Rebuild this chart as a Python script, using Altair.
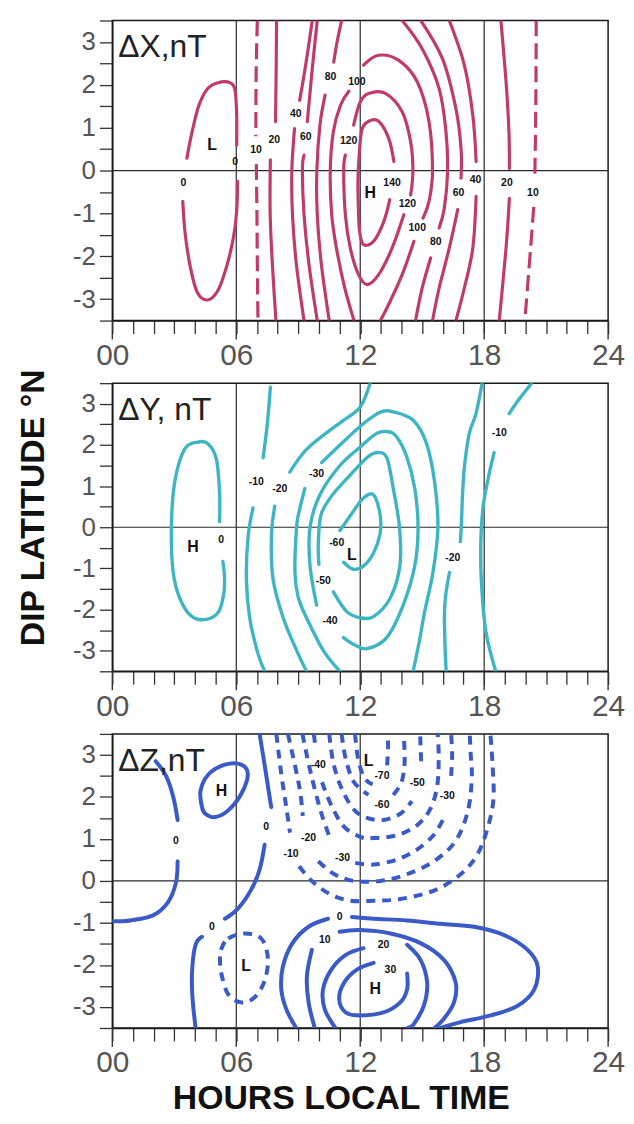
import altair as alt
import pandas as pd

# ---------------- axes / grid values ----------------
X_TICKS = list(range(25))
Y_TICKS = [-3.5, -3, -2.5, -2, -1.5, -1, -0.5, 0, 0.5, 1, 1.5, 2, 2.5, 3, 3.5]
GRID_X = [6, 12, 18]
GRID_Y = [0]
MAJOR_X = [0, 6, 12, 18, 24]

DX_COLOR = "#c13a6c"
DY_COLOR = "#3db5c3"
DZ_COLOR = "#3a5bc7"

# ---------------- Delta X contours (hour, dip latitude) ----------------
DX_LINES = [
    ("solid", [(3.41, -0.72), (3.53, -1.49), (3.78, -2.26), (4.11, -2.84), (4.61, -3.02), (5.11, -2.80), (5.52, -2.26), (5.86, -1.57), (6.02, -0.95), (6.06, -0.25)]),
    ("solid", [(6.02, 0.59), (6.02, 1.29), (5.94, 1.87), (5.69, 2.05), (5.11, 2.05), (4.61, 1.91), (4.19, 1.52), (3.86, 0.90), (3.61, 0.29)]),
    ("dash", [(7.02, 3.5), (6.96, 2.2), (6.95, 0.8)]),
    ("dash", [(6.97, 0.15), (7.0, -1.0), (7.02, -2.2), (7.05, -3.5)]),
    ("dash", [(20.52, 3.5), (20.5, 1.5), (20.45, -0.2)]),
    ("dash", [(20.4, -0.85), (20.25, -1.8), (19.97, -3.5)]),
    ("solid", [(7.95, 3.5), (7.93, 2.3), (7.9, 1.14)]),
    ("solid", [(7.65, 0.25), (7.64, -1.0), (7.75, -2.2), (7.92, -3.5)]),
    ("solid", [(18.81, 3.5), (19.06, 2.07), (19.2, 0.9), (19.22, 0.05)]),
    ("solid", [(19.22, -0.65), (19.06, -1.8), (18.73, -3.5)]),
    ("solid", [(9.68, 3.5), (9.36, 2.46), (9.07, 1.64)]),
    ("solid", [(8.82, 0.98), (8.69, 0.0), (8.72, -1.03), (8.91, -2.19), (9.28, -3.5)]),
    ("solid", [(16.31, 3.5), (17.04, 2.46), (17.45, 1.29), (17.61, 0.21)]),
    ("solid", [(17.61, -0.6), (17.45, -1.81), (17.04, -2.74), (16.63, -3.5)]),
    ("solid", [(9.92, 3.5), (9.68, 2.38), (9.44, 1.14)]),
    ("solid", [(9.28, 0.36), (9.2, 0.0), (9.28, -1.03), (9.52, -2.19), (9.92, -3.5)]),
    ("solid", [(14.93, 3.5), (15.98, 2.61), (16.63, 1.45), (16.88, 0.52), (16.88, -0.18)]),
    ("solid", [(16.72, -0.91), (16.31, -1.81), (15.82, -2.74), (15.5, -3.5)]),
    ("solid", [(11.1, 3.5), (10.88, 3.0), (10.72, 2.53)]),
    ("solid", [(10.3, 1.76), (10.05, 1.06), (9.9, 0.0), (9.92, -1.03), (10.12, -2.19), (10.5, -3.5)]),
    ("solid", [(14.03, 3.5), (15.0, 2.84), (15.82, 1.91), (16.15, 0.91), (16.23, -0.02), (16.07, -0.88), (15.82, -1.34)]),
    ("solid", [(15.41, -2.04), (15.0, -2.74), (14.68, -3.5)]),
    ("solid", [(11.7, -3.5), (11.25, -2.74), (10.85, -1.81), (10.62, -1.03), (10.55, 0.0), (10.7, 0.91), (11.05, 1.53), (11.45, 1.85)]),
    ("solid", [(12.16, 2.46), (12.89, 2.69), (13.87, 2.57), (14.76, 2.07), (15.33, 1.14), (15.5, -0.02), (15.33, -0.72), (15.04, -1.11)]),
    ("solid", [(14.6, -1.65), (14.03, -2.43), (13.38, -3.12), (12.98, -3.5)]),
    ("solid", [(11.28, 0.36), (11.2, 0.0), (11.28, -1.03), (11.52, -1.81), (11.92, -2.43), (12.33, -2.66), (12.89, -2.43), (13.54, -1.81), (14.11, -1.03)]),
    ("solid", [(14.44, -0.57), (14.55, -0.02), (14.44, 0.67), (14.03, 1.37), (13.22, 1.8), (12.41, 1.8), (12.0, 1.6), (11.68, 1.06)]),
    ("solid", [(13.43, -0.68), (13.14, -1.19), (12.65, -1.65), (12.16, -1.73), (11.98, -1.45), (11.92, -1.03), (11.89, -0.26), (11.95, 0.36), (12.08, 0.95), (12.41, 1.15), (12.89, 1.15), (13.38, 0.75), (13.63, 0.21)]),
]
DX_LABELS = [
    ("0", 3.44, -0.29), ("0", 5.94, 0.21), ("10", 6.96, 0.48), ("10", 20.36, -0.53),
    ("20", 7.84, 0.71), ("20", 19.1, -0.29), ("40", 8.88, 1.33), ("40", 17.58, -0.23),
    ("60", 9.36, 0.79), ("60", 16.76, -0.53), ("80", 10.56, 2.19), ("80", 15.66, -1.67),
    ("100", 11.84, 2.07), ("100", 14.76, -1.34), ("120", 11.44, 0.69), ("120", 14.28, -0.78),
    ("140", 13.54, -0.29),
]
DX_EXTREMA = [("L", 4.83, 0.6), ("H", 12.49, -0.53)]

# ---------------- Delta Y contours ----------------
DY_LINES = [
    ("solid", [(5.19, 0.14), (5.19, 0.86), (5.03, 1.67), (4.63, 2.03), (4.15, 2.07), (3.5, 1.9), (3.02, 1.1), (2.86, 0.0), (2.94, -1.07), (3.26, -1.72), (3.83, -2.16), (4.55, -2.24), (5.15, -2.05), (5.4, -1.6), (5.43, -1.2), (5.35, -0.83)]),
    ("solid", [(7.65, 3.4), (7.5, 2.5), (7.3, 1.69)]),
    ("solid", [(6.81, 0.47), (6.57, -0.24), (6.49, -1.26), (6.65, -2.2), (7.05, -3.07), (7.38, -3.5)]),
    ("solid", [(12.48, 3.5), (12.0, 2.92), (11.2, 2.6), (10.54, 2.36), (9.4, 1.89), (8.59, 1.34)]),
    ("solid", [(7.86, 0.51), (7.7, -0.24), (7.78, -1.26), (8.27, -2.2), (8.92, -2.99), (9.4, -3.5)]),
    ("solid", [(17.9, 3.5), (17.6, 2.75), (17.28, 2.28), (17.05, 1.5), (16.96, 0.87), (16.9, 0.1), (16.85, -0.35)]),
    ("solid", [(16.32, -1.1), (16.15, -1.6), (16.08, -2.05), (16.1, -2.8), (16.16, -3.5)]),
    ("solid", [(20.3, 3.5), (19.6, 3.05), (19.21, 2.76)]),
    ("solid", [(18.48, 1.81), (18.2, 1.2), (17.95, 0.5), (17.84, -0.3), (17.86, -1.26), (18.08, -2.52), (18.56, -3.5)]),
    ("solid", [(9.32, 0.94), (9.05, 0.4), (8.92, 0.0), (8.84, -1.1), (9.0, -1.7), (9.4, -2.2), (10.21, -2.99), (11.02, -3.5)]),
    ("solid", [(10.13, 1.57), (11.02, 2.0), (12.16, 2.52), (13.0, 2.8), (13.6, 2.8), (14.56, 2.6), (15.2, 2.05), (15.6, 1.1), (15.76, 0.0), (15.52, -1.1), (15.12, -2.05), (14.85, -2.8), (14.56, -3.5)]),
    ("solid", [(9.89, -1.89), (9.57, -0.94), (9.57, 0.0), (10.05, 0.79), (11.02, 1.5), (12.0, 1.95), (12.8, 2.28), (13.36, 2.32), (13.76, 2.2), (14.24, 1.73), (14.64, 0.94), (14.8, 0.0), (14.64, -0.94), (14.08, -1.89), (13.28, -2.68), (12.32, -2.95), (11.7, -2.85), (11.19, -2.68)]),
    ("solid", [(10.7, -1.57), (11.35, -2.05), (12.0, -2.2), (12.64, -2.17), (13.44, -1.73), (13.92, -0.94), (13.9, 0.0), (13.6, 0.94), (13.28, 1.7), (12.8, 1.81), (12.32, 1.69), (11.35, 1.18), (10.6, 0.75), (10.1, 0.3), (9.97, -0.4), (10.0, -0.9)]),
    ("solid", [(11.02, -0.08), (11.67, 0.39), (12.16, 0.71), (12.64, 0.79), (12.96, 0.31), (12.96, -0.16), (12.64, -0.63), (12.16, -0.94), (11.67, -1.02), (11.2, -0.85)]),
]
DY_LABELS = [
    ("0", 5.27, -0.31), ("-10", 6.97, 1.1), ("-20", 8.11, 0.94), ("-30", 9.89, 1.3),
    ("-60", 10.86, -0.39), ("-50", 10.21, -1.3), ("-40", 10.54, -2.28),
    ("-20", 16.48, -0.75), ("-10", 18.73, 2.3),
]
DY_EXTREMA = [("H", 3.9, -0.47), ("L", 11.59, -0.67)]

# ---------------- Delta Z contours ----------------
DZ_LINES = [
    ("solid", [(2.1, 2.85), (2.6, 2.5), (2.95, 2.0), (3.16, 1.45)]),
    ("solid", [(3.16, 0.47), (3.08, -0.04), (2.69, -0.51), (1.97, -0.82), (0.87, -0.94), (0.0, -0.96)]),
    ("solid_closed", [(4.34, 1.76), (4.27, 2.15), (4.66, 2.54), (5.45, 2.77), (6.24, 2.77), (6.56, 2.54), (6.24, 2.07), (5.61, 1.68), (4.98, 1.52), (4.5, 1.6)]),
    ("solid", [(7.13, 3.5), (7.37, 2.77), (7.55, 2.2), (7.69, 1.76)]),
    ("solid", [(7.37, 0.86), (7.13, 0.27), (6.73, -0.2), (6.08, -0.66), (5.45, -0.9)]),
    ("solid", [(4.34, -1.33), (4.03, -1.52), (3.87, -2.07), (3.87, -2.7), (4.03, -3.5)]),
    ("dash_closed", [(5.29, -1.6), (5.61, -1.37), (6.4, -1.25), (7.21, -1.37), (7.53, -1.84), (7.37, -2.38), (6.89, -2.77), (6.24, -2.89), (5.61, -2.7), (5.29, -2.23), (5.21, -1.84)]),
    ("dash", [(7.94, 3.5), (8.18, 2.54), (8.42, 1.76), (8.6, 1.15)]),
    ("dash", [(9.04, 0.35), (9.66, 0.0), (10.52, -0.31), (11.51, -0.47), (12.65, -0.47), (13.94, -0.43), (15.57, -0.23), (16.86, 0.16), (17.67, 0.63), (18.16, 1.25), (18.45, 1.95), (18.4, 2.81), (18.3, 3.5)]),
    ("dash", [(8.5, 3.5), (8.88, 2.66), (9.1, 2.1), (9.22, 1.55)]),
    ("dash", [(9.97, 0.47), (10.75, 0.16), (11.69, 0.0), (12.97, 0.0), (14.27, 0.16), (15.57, 0.47), (16.6, 0.94), (17.2, 1.64), (17.4, 2.42), (17.35, 3.0), (17.3, 3.5)]),
    ("dash", [(9.2, 3.5), (9.6, 2.58), (10.1, 1.64), (10.55, 1.0)]),
    ("dash", [(11.76, 0.43), (12.65, 0.39), (13.78, 0.51), (14.76, 0.75), (15.57, 1.1), (16.05, 1.5)]),
    ("dash", [(16.4, 2.5), (16.45, 3.0), (16.4, 3.5)]),
    ("dash", [(9.75, 3.5), (9.85, 3.15)]),
    ("dash", [(10.15, 2.35), (10.6, 1.8), (11.2, 1.3), (12.0, 1.05), (12.65, 1.02), (13.78, 1.09), (14.76, 1.33), (15.4, 1.72), (15.73, 2.27), (15.8, 2.97), (15.75, 3.5)]),
    ("dash", [(10.5, 3.5), (10.7, 2.81), (11.1, 2.2), (11.69, 1.7), (12.33, 1.5), (13.13, 1.45), (13.94, 1.6), (14.5, 1.9)]),
    ("dash", [(14.95, 2.85), (14.9, 3.5)]),
    ("dash", [(11.1, 3.5), (11.3, 2.9), (11.7, 2.35), (12.4, 2.05)]),
    ("dash", [(13.6, 2.05), (14.0, 2.35), (14.15, 2.85), (14.1, 3.5)]),
    ("dash", [(11.75, 3.5), (11.9, 2.9), (12.2, 2.45), (12.6, 2.3)]),
    ("dash", [(13.3, 2.75), (13.35, 3.2), (13.3, 3.5)]),
    ("solid", [(11.6, -0.86), (12.65, -0.9), (14.27, -0.94), (15.89, -1.02), (17.51, -1.09), (18.97, -1.29), (20.1, -1.64), (20.59, -2.03), (20.43, -2.58), (19.62, -2.97), (18.32, -3.2), (16.86, -3.36), (15.89, -3.5)]),
    ("solid", [(10.44, -0.9), (9.5, -1.09), (8.72, -1.48), (8.26, -2.03), (8.18, -2.58), (8.42, -3.05), (8.9, -3.5)]),
    ("solid", [(11.0, -1.21), (12.0, -1.17), (13.46, -1.25), (14.92, -1.48), (16.05, -1.88), (16.62, -2.42), (16.54, -2.89), (16.05, -3.28), (15.6, -3.5)]),
    ("solid", [(9.66, -1.64), (9.42, -2.27), (9.5, -2.89), (9.8, -3.5)]),
    ("solid", [(12.16, -1.6), (11.3, -1.76), (10.6, -2.11), (10.2, -2.58), (10.28, -3.05), (10.8, -3.5)]),
    ("solid", [(14.27, -1.52), (14.92, -1.88), (15.24, -2.42), (15.08, -2.97), (14.6, -3.4), (14.3, -3.5)]),
    ("solid", [(12.65, -1.95), (11.84, -2.11), (11.22, -2.42), (10.98, -2.81), (11.3, -3.13), (12.0, -3.2), (13.13, -3.13), (13.94, -2.89), (14.27, -2.58), (14.27, -2.2)]),
]
DZ_LABELS = [
    ("0", 3.08, 0.94), ("0", 7.45, 1.29), ("0", 4.82, -1.09), ("-10", 8.65, 0.64),
    ("-20", 9.5, 1.02), ("-30", 11.14, 0.55), ("-40", 9.97, 2.77), ("-70", 13.05, 2.5),
    ("-50", 14.76, 2.34), ("-30", 16.21, 2.03), ("-60", 13.05, 1.81), ("0", 11.0, -0.86),
    ("10", 10.28, -1.41), ("20", 13.13, -1.52), ("30", 13.46, -2.11),
]
DZ_EXTREMA = [("H", 5.29, 2.15), ("L", 6.47, -2.03), ("L", 12.4, 2.85), ("H", 12.73, -2.58)]

FONT = "Liberation Sans"
XS = alt.Scale(domain=[0, 24], nice=False, zero=False)
YS = alt.Scale(domain=[-3.5, 3.5], nice=False, zero=False)
X_LABEL_EXPR = "datum.value % 6 == 0 ? (datum.value < 10 ? '0' + datum.value : '' + datum.value) : ''"
Y_LABEL_EXPR = "datum.value % 1 == 0 ? '' + datum.value : ''"
Y_LABEL_SIZE = {"condition": {"test": "datum.value % 1 != 0", "value": 0}, "value": 26}


def lines_df(lines):
    rows = []
    for i, (style, pts) in enumerate(lines):
        for j, (h, d) in enumerate(pts):
            rows.append({"seg": i, "ord": j, "x": h, "y": d, "style": style})
    return pd.DataFrame(rows)


def panel(lines, labels, extrema, name, color, height, lw, dash, xtitle, ytitle):
    if xtitle:
        xax = alt.Axis(values=X_TICKS, labelExpr=X_LABEL_EXPR, labelFlush=False, labelOverlap=False,
                       title=xtitle, titleFontSize=34, titleX=230, titlePadding=4)
    else:
        xax = alt.Axis(values=X_TICKS, labelExpr=X_LABEL_EXPR, labelFlush=False, labelOverlap=False, title=None)
    if ytitle:
        yax = alt.Axis(values=Y_TICKS, labelExpr=Y_LABEL_EXPR, labelFlush=False, labelOverlap=False,
                       labelFontSize=Y_LABEL_SIZE,
                       title=ytitle, titleFontSize=34, titleAngle=270, titleX=-69, titleY=125,
                       titleAlign="center", titleBaseline="alphabetic")
    else:
        yax = alt.Axis(values=Y_TICKS, labelExpr=Y_LABEL_EXPR, labelFlush=False, labelOverlap=False,
                       labelFontSize=Y_LABEL_SIZE, title=None)
    X = alt.X("x:Q", scale=XS, axis=xax)
    Y = alt.Y("y:Q", scale=YS, axis=yax)

    grid_v = alt.Chart(pd.DataFrame({"x": GRID_X})).mark_rule(color="#2a2a2a", strokeWidth=1.2).encode(x=X)
    grid_h = alt.Chart(pd.DataFrame({"y": GRID_Y})).mark_rule(color="#2a2a2a", strokeWidth=1.2).encode(y=Y)
    major = alt.Chart(pd.DataFrame({"x": MAJOR_X})).mark_rule(color="#333", strokeWidth=1.4).encode(
        x=X, y=alt.value(height), y2=alt.value(height + 19))

    df = lines_df(lines)
    layers = [grid_v, grid_h, major]
    for style, interp, dashed in [("solid", "cardinal", False), ("dash", "cardinal", True),
                                  ("solid_closed", "cardinal-closed", False), ("dash_closed", "cardinal-closed", True)]:
        sub = df[df["style"] == style]
        if len(sub) == 0:
            continue
        kw = dict(color=color, strokeWidth=lw, interpolate=interp, clip=True,
                  strokeCap="butt" if dashed else "round", strokeJoin="round")
        if dashed:
            kw["strokeDash"] = dash
        layers.append(alt.Chart(sub).mark_line(**kw).encode(
            x=X, y=Y, detail="seg:N", order="ord:Q"))

    lab = alt.Chart(pd.DataFrame(labels, columns=["t", "x", "y"])).mark_text(
        fontSize=10.5, fontWeight="bold", font=FONT, color="#111").encode(x=X, y=Y, text="t:N")
    ext = alt.Chart(pd.DataFrame(extrema, columns=["t", "x", "y"])).mark_text(
        fontSize=16, fontWeight="bold", font=FONT, color="#111").encode(x=X, y=Y, text="t:N")
    ttl = alt.Chart(pd.DataFrame({"t": [name]})).mark_text(
        align="left", baseline="top", fontSize=32, font=FONT, color="#222").encode(
        x=alt.value(6), y=alt.value(12), text="t:N")
    layers += [lab, ext, ttl]
    return alt.layer(*layers).properties(width=499, height=height)


p1 = panel(DX_LINES, DX_LABELS, DX_EXTREMA, "ΔX,nT", DX_COLOR, 302, 3.2, [16, 7], None, None)
p2 = panel(DY_LINES, DY_LABELS, DY_EXTREMA, "ΔY, nT", DY_COLOR, 290, 3.4, [10, 7], None, "DIP  LATITUDE  °N")
p3 = panel(DZ_LINES, DZ_LABELS, DZ_EXTREMA, "ΔZ,nT", DZ_COLOR, 296, 4.0, [9, 7], "HOURS  LOCAL   TIME", None)

chart = alt.vconcat(p1, p2, p3, spacing=63, bounds="flush").properties(
    padding={"left": 8, "top": 7, "right": 0, "bottom": 0}
).configure_view(stroke="#1a1a1a", strokeWidth=1.5).configure_axis(
    domainColor="#1a1a1a", domainWidth=1.5, tickColor="#333", tickWidth=1.3,
    labelFont=FONT, labelColor="#555", grid=False,
    titleFont=FONT, titleFontWeight="bold", titleColor="#111"
).configure_axisX(labelFontSize=30, tickSize=13, labelPadding=7).configure_axisY(
    tickSize=13, labelPadding=4)

chart.save("out.html", embed_options={"renderer": "svg", "actions": False})
